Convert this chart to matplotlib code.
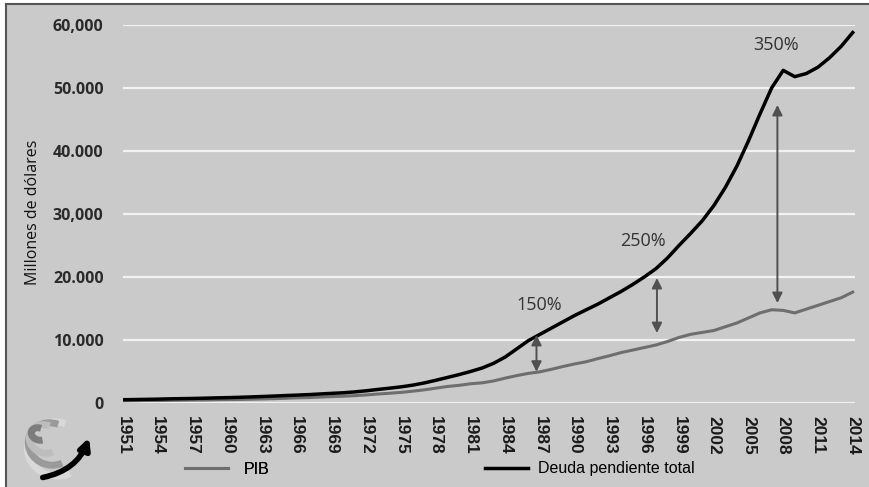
import numpy as np
import matplotlib
matplotlib.use('Agg')
import matplotlib.pyplot as plt
from matplotlib.patches import Rectangle, Arc, FancyArrowPatch

# data (annual)
years = list(range(1951, 2015))
deuda = [520, 550, 580, 610, 660, 690, 720, 760, 810, 850,
         900, 960, 1030, 1100, 1180, 1250, 1330, 1430, 1530, 1620,
         1760, 1940, 2150, 2350, 2560, 2830, 3180, 3600, 4050, 4500,
         5000, 5550, 6300, 7300, 8600, 9900, 10900, 11900, 12900, 13900,
         14800, 15700, 16700, 17700, 18800, 20000, 21300, 23000, 25000, 26900,
         28900, 31300, 34200, 37600, 41600, 45900, 50000, 52800, 51800, 52300,
         53300, 54800, 56600, 58800]
pib = [350, 370, 390, 390, 425, 450, 475, 480, 520, 540,
       560, 600, 640, 690, 740, 820, 860, 940, 1020, 1075,
       1165, 1280, 1425, 1545, 1685, 1875, 2085, 2355, 2620, 2800,
       3050, 3200, 3500, 3950, 4350, 4700, 4950, 5350, 5800, 6200,
       6550, 7050, 7500, 8000, 8400, 8800, 9200, 9750, 10400, 10900,
       11200, 11500, 12100, 12700, 13500, 14300, 14800, 14700, 14300, 14900,
       15500, 16100, 16700, 17600]

xtick_years = list(range(1951, 2015, 3))
ytick_vals = [0, 10000, 20000, 30000, 40000, 50000, 60000]
ytick_labels = ['0', '10.000', '20.000', '30,000', '40.000', '50.000', '60,000']

# arrows: (year, top, bottom) and labels: (year, value, text)
flechas = [(1986.7, 10800, 4970), (1997.1, 19840, 11100), (2007.5, 47300, 15870)]
etiquetas = [(1986.9, 15550, '150%'), (1995.9, 25700, '250%'), (2007.4, 56800, '350%')]

W, H = 869, 487
bg = '#cacaca'
fig = plt.figure(figsize=(W / 100, H / 100), dpi=100)
fig.patch.set_facecolor('white')

# grey panel with dark frame on left/top
fig.patches.append(Rectangle((6 / W, 0), 1, 1 - 4 / H, transform=fig.transFigure,
                             facecolor=bg, edgecolor='none', zorder=-10))
fig.add_artist(plt.Line2D([6 / W, 6 / W], [0, 1 - 4 / H], transform=fig.transFigure,
                          color='#555555', lw=1.5))
fig.add_artist(plt.Line2D([6 / W, 1], [1 - 4 / H, 1 - 4 / H], transform=fig.transFigure,
                          color='#555555', lw=1.5))

ax = fig.add_axes([123 / W, 1 - 403 / H, (855 - 123) / W, (403 - 25) / H])
ax.set_facecolor('none')
for s in ax.spines.values():
    s.set_visible(False)

ax.set_xlim(1951, 2014.2)
ax.set_ylim(0, 60000)
ax.set_yticks(ytick_vals)
ax.set_yticklabels(ytick_labels, fontsize=11.5, fontweight='bold',
                   family=['Open Sans', 'DejaVu Sans'], color='#2a2a2a')
ax.set_xticks(xtick_years)
ax.set_xticklabels([str(y) for y in xtick_years], rotation=-90, fontsize=12.5,
                   fontweight='bold', family=['Liberation Sans', 'DejaVu Sans'],
                   color='#1a1a1a')
ax.tick_params(axis='both', length=0)
ax.tick_params(axis='y', pad=14)
ax.tick_params(axis='x', pad=9)
ax.grid(axis='y', color='#f2f2f2', lw=1.6)
ax.set_axisbelow(True)

l_pib, = ax.plot(years, pib, color='#6e6e6e', lw=2.2, label='PIB', zorder=3)
l_deuda, = ax.plot(years, deuda, color='black', lw=2.5, label='Deuda pendiente total', zorder=4)

for x, top, bot in flechas:
    ax.annotate('', xy=(x, top), xytext=(x, bot),
                arrowprops=dict(arrowstyle='<|-|>', color='#505050', lw=1.4,
                                mutation_scale=15, shrinkA=0, shrinkB=0), zorder=5)
for x, v, t in etiquetas:
    ax.text(x, v, t, ha='center', va='center', fontsize=13,
            family=['Open Sans', 'DejaVu Sans'], color='#333333')

fig.text(33 / W, 1 - 212 / H, 'Millones de dólares', rotation=90, ha='center', va='center',
         fontsize=11.5, family=['Open Sans', 'DejaVu Sans'], color='#111111')

# legend: two separate entries as in the original
leg_font = {'family': ['Liberation Sans', 'DejaVu Sans'], 'size': 11.5}
leg1 = fig.legend(handles=[l_pib], loc='center left', bbox_to_anchor=(185 / W, 1 - 469 / H),
                  frameon=False, handlelength=2.7, handletextpad=1.0, borderpad=0,
                  borderaxespad=0, prop=leg_font)
fig.legend(handles=[l_deuda], loc='center left', bbox_to_anchor=(485 / W, 1 - 469 / H),
           frameon=False, handlelength=2.7, handletextpad=0.6, borderpad=0,
           borderaxespad=0, prop=leg_font)
fig.add_artist(leg1)

# logo (globe with arrow)
lax = fig.add_axes([14 / W, 1 - 485 / H, 92 / W, 80 / H])
lax.set_xlim(0, 92)
lax.set_ylim(0, 80)
lax.set_aspect('equal')
lax.axis('off')
bands = [((42, 36), 58, 54, '#d9d9d9'), ((37, 41), 46, 42, '#9a9a9a'),
         ((31, 46), 32, 28, '#bdbdbd'), ((25, 51), 16, 12, '#7d7d7d')]
for (cx, cy), w, h, c in bands:
    lax.add_patch(Arc((cx, cy), w, h, angle=-20, theta1=90, theta2=320, color=c, lw=5))
lax.add_patch(FancyArrowPatch((26, 7), (76, 50), connectionstyle='arc3,rad=0.3',
                              arrowstyle='-|>', mutation_scale=16, color='black', lw=4))

fig.savefig('out.png', dpi=100, facecolor=fig.get_facecolor())
